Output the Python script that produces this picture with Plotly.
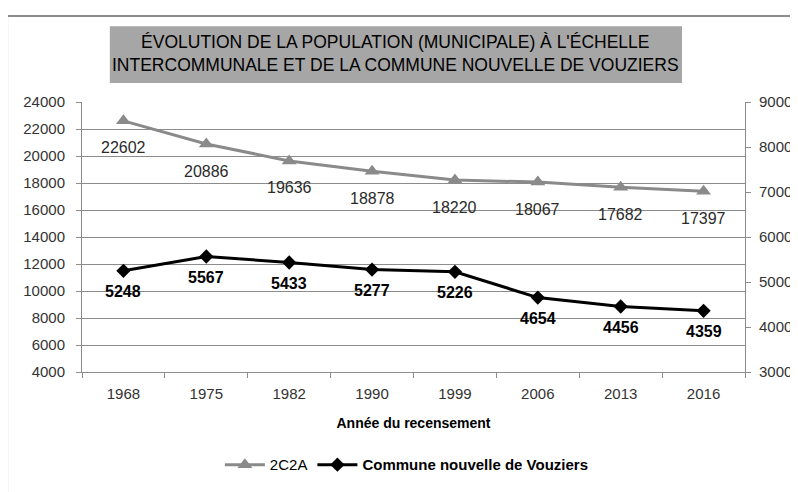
import plotly.graph_objects as go

# --- data ---
annees = ["1968", "1975", "1982", "1990", "1999", "2006", "2013", "2016"]
pop_2c2a = [22602, 20886, 19636, 18878, 18220, 18067, 17682, 17397]
pop_vouziers = [5248, 5567, 5433, 5277, 5226, 4654, 4456, 4359]

gris = "#8a8a8a"
police = "Liberation Sans, Arial, sans-serif"

fig = go.Figure()

fig.add_trace(go.Scatter(
    x=annees, y=pop_2c2a, name="2C2A", mode="lines+markers",
    line=dict(color=gris, width=3),
    marker=dict(symbol="triangle-up", size=13, color=gris),
))
fig.add_trace(go.Scatter(
    x=annees, y=pop_vouziers, name="<b>Commune nouvelle de Vouziers</b>",
    mode="lines+markers", yaxis="y2",
    line=dict(color="black", width=3),
    marker=dict(symbol="diamond", size=11, color="black"),
))

# data labels under the points (x given as category index)
annots = []
for i, v in enumerate(pop_2c2a):
    annots.append(dict(x=i, y=v, xref="x", yref="y", text=str(v), showarrow=False,
                       yshift=-27, font=dict(size=16, color="#2b2b2b", family=police)))
for i, v in enumerate(pop_vouziers):
    annots.append(dict(x=i, y=v, xref="x", yref="y2", text="<b>%d</b>" % v, showarrow=False,
                       yshift=-21, font=dict(size=16, color="black", family=police)))

# title in grey box
annots.append(dict(
    x=0.4736, y=1.178, xref="paper", yref="paper", showarrow=False,
    xanchor="center", yanchor="middle",
    text="ÉVOLUTION DE LA POPULATION (MUNICIPALE) À L'ÉCHELLE<br>INTERCOMMUNALE ET DE LA COMMUNE NOUVELLE DE VOUZIERS",
    font=dict(size=17.5, color="black", family=police),
))
fig.update_layout(annotations=annots)

# page body has an 8px margin, so the figure is shifted accordingly
fig.update_layout(
    shapes=[
        # outer frame
        dict(type="rect", xref="paper", yref="paper", x0=-0.113, x1=1.1, y0=-0.5, y1=1.3185,
             line=dict(color="#8c8c8c", width=2), layer="below"),
        # title box
        dict(type="rect", xref="paper", yref="paper", x0=0.042, x1=0.905, y0=1.070, y1=1.281,
             fillcolor="#a6a6a6", line=dict(width=0), layer="below"),
    ],
    width=798, height=492,
    margin=dict(l=74, r=61, t=94, b=128),
    paper_bgcolor="white", plot_bgcolor="white",
    font=dict(family=police, size=15, color="#333333"),
    showlegend=True,
    legend=dict(orientation="h", x=0.49, xanchor="center", y=-0.344, yanchor="middle",
                font=dict(size=15, color="black"), itemwidth=40, tracegroupgap=0),
    xaxis=dict(
        type="category", range=[-0.5, len(annees) - 0.5], tickangle=0,
        tickson="boundaries", ticks="outside", ticklen=5, tickcolor="#8c8c8c",
        ticklabelstandoff=8,
        showline=True, linecolor="#8c8c8c", linewidth=1, showgrid=False,
        title=dict(text="<b>Année du recensement</b>", font=dict(size=14, color="black"), standoff=17),
        tickfont=dict(size=15, color="#333333"),
    ),
    yaxis=dict(
        range=[4000, 24000], dtick=2000, tickformat="d", ticklabelstandoff=8,
        showline=True, linecolor="#8c8c8c", ticks="outside", ticklen=5, tickcolor="#8c8c8c",
        gridcolor="#8c8c8c", gridwidth=1, zeroline=False,
    ),
    yaxis2=dict(
        range=[3000, 9000], dtick=1000, tickformat="d", overlaying="y", side="right",
        ticklabelstandoff=5,
        showline=True, linecolor="#8c8c8c", ticks="outside", ticklen=5, tickcolor="#8c8c8c",
        showgrid=False, zeroline=False,
    ),
)

fig.write_html("out.html")
